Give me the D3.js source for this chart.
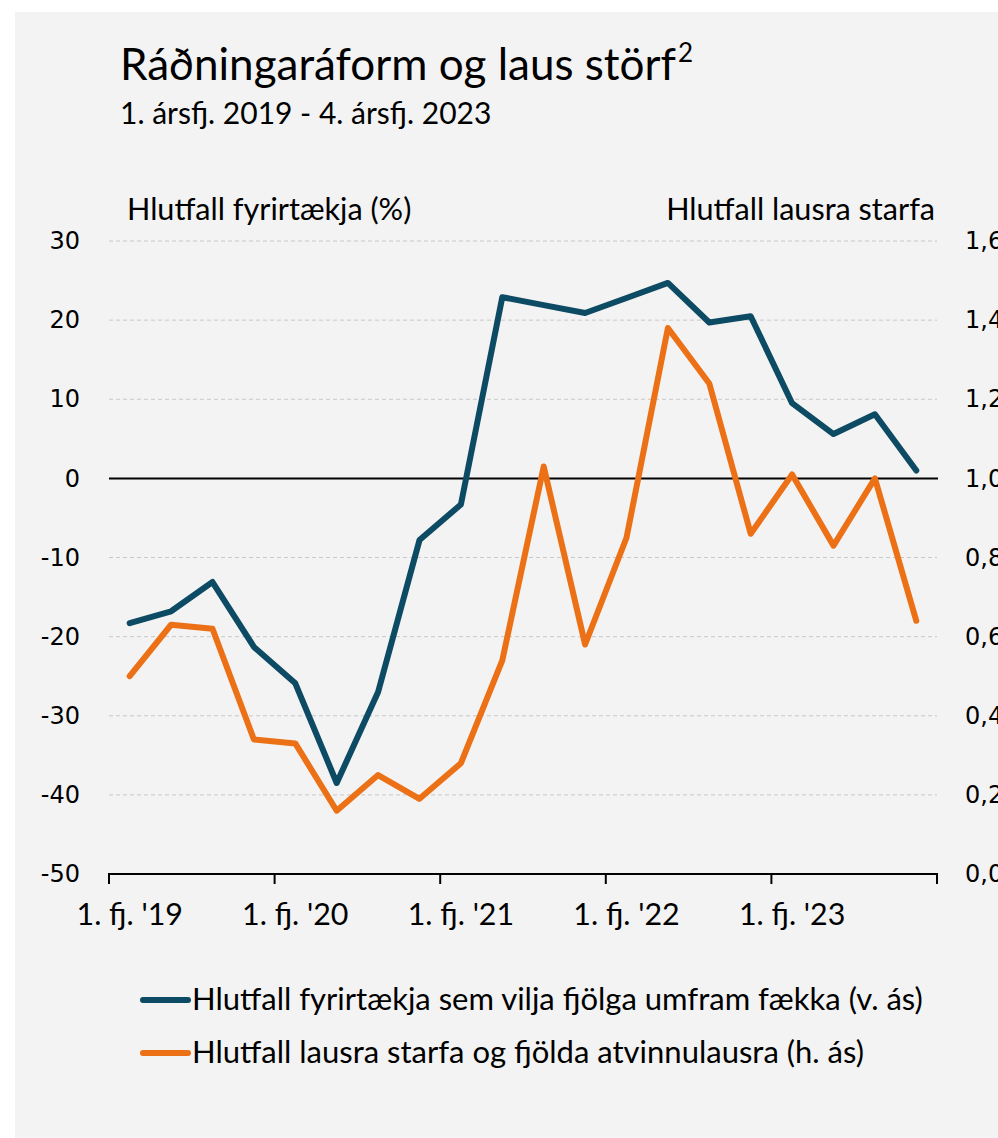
<!DOCTYPE html>
<html>
<head>
<meta charset="utf-8">
<script src="https://cdn.jsdelivr.net/npm/d3@7"></script>
<style>
  body { margin: 0; background: #fff; }
  .cal { font-family: Lato, "Open Sans", sans-serif; fill: #000; }
  .num { font-family: "DejaVu Sans", Verdana, sans-serif; font-size: 24px; fill: #000; }
</style>
</head>
<body>
<div class="canva"></div>
<script>
// quarters 1. fj. 2019 - 4. fj. 2023
const quarters = ['2019Q1','2019Q2','2019Q3','2019Q4','2020Q1','2020Q2','2020Q3','2020Q4',
                  '2021Q1','2021Q2','2021Q3','2021Q4','2022Q1','2022Q2','2022Q3','2022Q4',
                  '2023Q1','2023Q2','2023Q3','2023Q4'];
const quarterLabels = {'2019Q1': "1. fj. '19", '2020Q1': "1. fj. '20", '2021Q1': "1. fj. '21",
                       '2022Q1': "1. fj. '22", '2023Q1': "1. fj. '23"};

// left axis, % of firms wanting to hire more than lay off
const firms = [-18.3, -16.8, -13.1, -21.3, -25.9, -38.5, -27.0, -7.8,
               -3.3, 22.9, 21.9, 20.9, 22.8, 24.7, 19.7, 20.5,
               9.5, 5.6, 8.1, 1.0];
// right axis, vacancies to unemployed ratio
const vacancies = [0.50, 0.63, 0.62, 0.34, 0.33, 0.16, 0.25, 0.19,
                   0.28, 0.54, 1.03, 0.58, 0.85, 1.38, 1.24, 0.86,
                   1.01, 0.83, 1.00, 0.64];

const leftTicks = [-50, -40, -30, -20, -10, 0, 10, 20, 30];
const rightTicks = [0, 0.2, 0.4, 0.6, 0.8, 1.0, 1.2, 1.4, 1.6];

const title = 'Ráðningaráform og laus störf';
const subtitle = '1. ársfj. 2019 - 4. ársfj. 2023';
const leftTitle = 'Hlutfall fyrirtækja (%)';
const rightTitle = 'Hlutfall lausra starfa';
const legendNames = ['Hlutfall fyrirtækja sem vilja fjölga umfram fækka (v. ás)',
                     'Hlutfall lausra starfa og fjölda atvinnulausra (h. ás)'];
const colors = ['#0d4a63', '#ec7116'];

const W = 998, H = 1138;
const svg = d3.select('.canva').append('svg')
    .attr('width', W)
    .attr('height', H);

svg.append('rect')
    .attr('x', 15).attr('y', 12)
    .attr('width', W - 15).attr('height', H - 12)
    .attr('fill', '#f3f3f3');

const plot = {left: 109, right: 937, top: 241, bottom: 874};

const x = d3.scaleBand()
    .domain(quarters)
    .range([plot.left, plot.right])
    .padding(0);
const cx = q => x(q) + x.bandwidth() / 2;

const yL = d3.scaleLinear().domain([-50, 30]).range([plot.bottom, plot.top]);
const yR = d3.scaleLinear().domain([0, 1.6]).range([plot.bottom, plot.top]);

// titles
const t = svg.append('text').attr('class', 'cal')
    .attr('x', 120).attr('y', 80)
    .style('font-size', '44px')
    .text(title);
t.append('tspan').attr('dx', 2).attr('dy', -18).style('font-size', '26px').text('2');

svg.append('text').attr('class', 'cal')
    .attr('x', 120).attr('y', 124)
    .style('font-size', '30px')
    .text(subtitle);

svg.append('text').attr('class', 'cal')
    .attr('x', 127).attr('y', 220)
    .style('font-size', '30.6px')
    .text(leftTitle);

svg.append('text').attr('class', 'cal')
    .attr('x', 935).attr('y', 220)
    .attr('text-anchor', 'end')
    .style('font-size', '30.6px')
    .text(rightTitle);

// gridlines
svg.append('g').selectAll('line')
    .data(leftTicks.filter(d => d !== 0 && d !== -50))
    .enter().append('line')
    .attr('x1', plot.left).attr('x2', plot.right)
    .attr('y1', d => yL(d)).attr('y2', d => yL(d))
    .attr('stroke', '#c8c8c8')
    .attr('stroke-width', 1)
    .attr('stroke-dasharray', '4,3');

// left axis
const gL = svg.append('g')
    .attr('transform', `translate(${plot.left - 29},0)`)
    .call(d3.axisLeft(yL).tickValues(leftTicks).tickSize(0).tickPadding(0)
        .tickFormat(d => String(d)));
gL.select('.domain').remove();
gL.selectAll('text').attr('class', 'num').attr('font-family', null).attr('font-size', null);

// right axis
const gR = svg.append('g')
    .attr('transform', `translate(965,0)`)
    .call(d3.axisRight(yR).tickValues(rightTicks).tickSize(0).tickPadding(0)
        .tickFormat(d => d3.format('.1f')(d).replace('.', ',')));
gR.select('.domain').remove();
gR.selectAll('text').attr('class', 'num').attr('font-family', null).attr('font-size', null);

// zero line
svg.append('line')
    .attr('x1', plot.left).attr('x2', plot.right + 1)
    .attr('y1', yL(0)).attr('y2', yL(0))
    .attr('stroke', '#000').attr('stroke-width', 2);

// bottom axis: labels at category centres, ticks at year boundaries
const gB = svg.append('g')
    .attr('transform', `translate(0,${plot.bottom})`)
    .call(d3.axisBottom(x)
        .tickValues(Object.keys(quarterLabels))
        .tickFormat(d => quarterLabels[d])
        .tickSize(0).tickPadding(29));
gB.select('.domain').remove();
gB.selectAll('text')
    .attr('class', 'cal')
    .attr('font-family', null).attr('font-size', null)
    .style('font-size', '30.4px');

const boundaries = Object.keys(quarterLabels).map(q => x(q)).concat([plot.right]);
svg.append('path')
    .attr('d', `M${plot.left},${plot.bottom + 10}V${plot.bottom}H${plot.right}V${plot.bottom + 10}`)
    .attr('fill', 'none').attr('stroke', '#000').attr('stroke-width', 2);
svg.append('g').selectAll('line')
    .data(boundaries)
    .enter().append('line')
    .attr('x1', d => d).attr('x2', d => d)
    .attr('y1', plot.bottom).attr('y2', plot.bottom + 10)
    .attr('stroke', '#000').attr('stroke-width', 2);

// series
const lineL = d3.line().x((d, i) => cx(quarters[i])).y(d => yL(d));
const lineR = d3.line().x((d, i) => cx(quarters[i])).y(d => yR(d));

svg.append('path')
    .datum(vacancies)
    .attr('d', lineR)
    .attr('fill', 'none').attr('stroke', colors[1])
    .attr('stroke-width', 6).attr('stroke-linecap', 'round').attr('stroke-linejoin', 'round');

svg.append('path')
    .datum(firms)
    .attr('d', lineL)
    .attr('fill', 'none').attr('stroke', colors[0])
    .attr('stroke-width', 6).attr('stroke-linecap', 'round').attr('stroke-linejoin', 'round');

// legend
const legend = svg.append('g').selectAll('g')
    .data(legendNames)
    .enter().append('g')
    .attr('transform', (d, i) => `translate(0,${1000 + i * 53})`);
legend.append('line')
    .attr('x1', 143).attr('x2', 188)
    .attr('stroke', (d, i) => colors[i])
    .attr('stroke-width', 6).attr('stroke-linecap', 'round');
legend.append('text').attr('class', 'cal')
    .attr('x', 192).attr('y', 10)
    .style('font-size', '31px')
    .text(d => d);
</script>
</body>
</html>
